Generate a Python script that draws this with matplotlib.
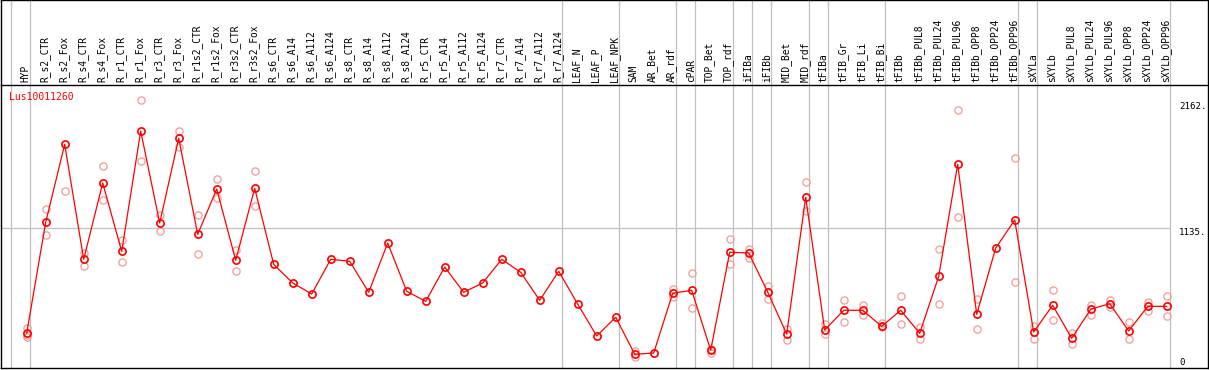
import numpy as np
import matplotlib
matplotlib.use("Agg")
import matplotlib.pyplot as plt

gene = "Lus10011260"

samples = ["HYP", "R_s2_CTR", "R_s2_Fox", "R_s4_CTR", "R_s4_Fox", "R_r1_CTR", "R_r1_Fox",
           "R_r3_CTR", "R_r3_Fox", "R_r1s2_CTR", "R_r1s2_Fox", "R_r3s2_CTR", "R_r3s2_Fox",
           "R_s6_CTR", "R_s6_A14", "R_s6_A112", "R_s6_A124", "R_s8_CTR", "R_s8_A14",
           "R_s8_A112", "R_s8_A124", "R_r5_CTR", "R_r5_A14", "R_r5_A112", "R_r5_A124",
           "R_r7_CTR", "R_r7_A14", "R_r7_A112", "R_r7_A124", "LEAF_N", "LEAF_P", "LEAF_NPK",
           "SAM", "AR_Bet", "AR_rdf", "cPAR", "TOP_Bet", "TOP_rdf", "iFIBa", "iFIBb",
           "MID_Bet", "MID_rdf", "tFIBa", "tFIB_Gr", "tFIB_Li", "tFIB_Bi", "tFIBb",
           "tFIBb_PUL8", "tFIBb_PUL24", "tFIBb_PUL96", "tFIBb_OPP8", "tFIBb_OPP24",
           "tFIBb_OPP96", "sXYLa", "sXYLb", "sXYLb_PUL8", "sXYLb_PUL24", "sXYLb_PUL96",
           "sXYLb_OPP8", "sXYLb_OPP24", "sXYLb_OPP96"]

mean_values = [275, 1181, 1818, 879, 1502, 944, 1926, 1175, 1867, 1083, 1453, 871, 1459,
               838, 686, 596, 879, 863, 610, 1012, 618, 536, 816, 610, 686, 879, 773, 544, 781,
               514, 253, 406, 104, 114, 602, 626, 136, 936, 931, 612, 269, 1385, 302, 463, 463,
               332, 463, 275, 740, 1655, 430, 971, 1200, 286, 504, 234, 471, 517, 294, 495, 495]

nan = np.nan
rep_a = [316, 1287, 1434, 928, 1638, 1037, 1679, 1241, 1926, 1238, 1532, 955, 1597,
         nan, nan, nan, nan, nan, nan, nan, nan, nan, nan, nan, nan, nan, nan, nan, nan,
         nan, nan, nan, 131, nan, 639, 765, 147, 1045, 966, 664, 310, 1510, 351, 544, 506,
         359, 577, 327, 961, 1222, 553, nan, 1704, 332, 626, 278, 506, 547, 367, 531, 577]
rep_b = [261, 1075, nan, 827, 1361, 855, 2180, 1108, 1798, 920, 1377, 781, 1312,
         nan, nan, nan, nan, nan, nan, nan, nan, nan, nan, nan, nan, nan, nan, nan, nan,
         nan, nan, nan, 84, nan, 569, 479, 112, 838, 892, 558, 223, 1273, 267, 367, 427,
         324, 349, 226, 512, 2098, 308, nan, 691, 226, 381, 190, 427, 490, 226, 455, 414]
rep_c = [247] + [nan] * 60

group_breaks = [-1, 0, 28, 31, 34, 35, 37, 38, 39, 41, 42, 45, 52, 53, 60]
tick_values = [2162, 1135, 0]

# ---- figure geometry (pixels) ----
W, H = 1209, 370
fig = plt.figure(figsize=(W / 100, H / 100), dpi=100)

x0_px, dx_px = 26.7, 19.0
def px_to_x(px):
    return (px - x0_px) / dx_px

xlim = (px_to_x(1), px_to_x(1208))
ytop_px, ybot_px, yzero_px = 86, 368, 367
scale = 0.1225  # px per unit
ylim = ((yzero_px - ybot_px) / scale, (yzero_px - ytop_px) / scale)

ax = fig.add_axes([1 / W, (H - ybot_px) / H, 1207 / W, (ybot_px - ytop_px) / H])
hx = fig.add_axes([1 / W, (H - 85) / H, 1207 / W, 85 / H])

grid_c = "#c0c0c0"
mono = "DejaVu Sans Mono"

for a in (ax, hx):
    a.set_xlim(*xlim)
    a.set_xticks([])
    a.set_yticks([])
    for s in a.spines.values():
        s.set_color("black")
        s.set_linewidth(1.0)
    for b in group_breaks:
        a.axvline(b + 0.19, color=grid_c, lw=0.9, zorder=0)

ax.set_ylim(*ylim)
ax.spines["top"].set_visible(False)
hx.set_ylim(0, 1)

x = np.arange(len(samples))

# horizontal grid at 1135
ax.hlines(1135, xlim[0], 60.19, color=grid_c, lw=0.9, zorder=0)

# replicates
rep_col = "#f09a9a"
for rep in (rep_a, rep_b, rep_c):
    ax.plot(x, rep, linestyle="none", marker="o", markersize=5.2, markerfacecolor="none",
            markeredgecolor=rep_col, markeredgewidth=0.9, zorder=2)

# mean line
ax.plot(x, mean_values, color="red", lw=0.9, marker="o", markersize=5.2,
        markerfacecolor="none", markeredgecolor="red", markeredgewidth=1.2, zorder=3)

# y labels on the right
lab_x = px_to_x(1179)
for v in tick_values:
    if v == 0:
        ax.text(lab_x, v, "0", ha="left", va="bottom", fontsize=6.6, family=mono)
    else:
        ax.text(lab_x, v, f"{v}.", ha="left", va="top", fontsize=6.6, family=mono)

# gene name
ax.text(px_to_x(9), (yzero_px - 97) / scale, gene, color="red", ha="left", va="center",
        fontsize=7.0, family=mono)

# header labels
for i, name in enumerate(samples):
    hx.text(i - 0.05, 0.03, name, rotation=90, ha="center", va="bottom",
            fontsize=6.9, family=mono)

fig.savefig("out.png", dpi=100)
